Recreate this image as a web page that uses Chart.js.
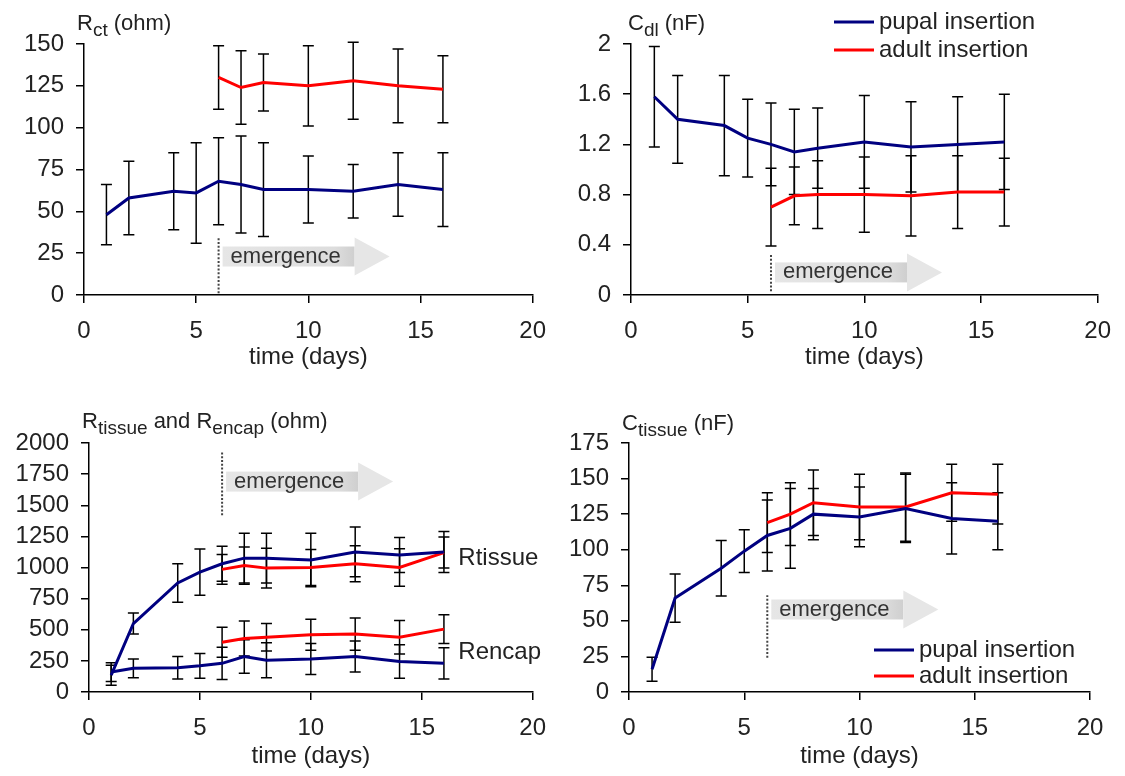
<!DOCTYPE html>
<html>
<head>
<meta charset="utf-8">
<title>Impedance parameters after insertion</title>
<script src="https://cdn.jsdelivr.net/npm/chart.js@4.4.1/dist/chart.umd.min.js"></script>
<style>
  html, body { margin: 0; padding: 0; background: #fff; }
  #wrap { position: relative; width: 1125px; height: 776px; }
  .panel { position: absolute; }
</style>
</head>
<body>
<div id="wrap">
  <canvas id="rctChart" class="panel" width="560" height="388" style="left:0;top:0"></canvas>
  <canvas id="cdlChart" class="panel" width="565" height="388" style="left:560px;top:0"></canvas>
  <canvas id="rChart" class="panel" width="560" height="388" style="left:0;top:388px"></canvas>
  <canvas id="ctisChart" class="panel" width="565" height="388" style="left:560px;top:388px"></canvas>
</div>
<script>
const FONT = "'Liberation Sans', Arial, sans-serif";
Chart.defaults.font.family = FONT;
Chart.defaults.color = '#222';

// sampling days
const days = [1, 2, 4, 5, 6, 7, 8, 10, 12, 14, 16];
const adultDays = [6, 7, 8, 10, 12, 14, 16];
const xTicks = [0, 5, 10, 15, 20];
const seriesNames = ['pupal insertion', 'adult insertion'];
const xTitle = 'time (days)';
const emergenceText = 'emergence';

// Rct (ohm)
const rctTicks = [0, 25, 50, 75, 100, 125, 150];
const rctPupal = [48, 58, 62, 61, 68, 66, 63, 63, 62, 66, 63];
const rctPupalErr = [18, 22, 23, 30, 26, 29, 28, 20, 16, 19, 22];
const rctAdult = [130, 124, 127, 125, 128, 125, 123];
const rctAdultErr = [19, 22, 17, 24, 23, 22, 20];

// Cdl (nF)
const cdlTicks = [0, 0.4, 0.8, 1.2, 1.6, 2];
const cdlPupal = [1.58, 1.40, 1.35, 1.25, 1.20, 1.14, 1.17, 1.22, 1.18, 1.20, 1.22];
const cdlPupalErr = [0.40, 0.35, 0.40, 0.31, 0.33, 0.34, 0.32, 0.37, 0.36, 0.38, 0.38];
const cdlAdult = [0.70, 0.79, 0.80, 0.80, 0.79, 0.82, 0.82];
const cdlAdultErr = [0.31, 0.23, 0.27, 0.30, 0.32, 0.29, 0.27];

// Rtissue and Rencap (ohm)
const rTicks = [0, 250, 500, 750, 1000, 1250, 1500, 1750, 2000];
const rtisPupal = [135, 550, 876, 963, 1030, 1075, 1075, 1060, 1125, 1100, 1125];
const rtisPupalErr = [80, 85, 155, 185, 140, 200, 200, 215, 200, 140, 165];
const rtisAdult = [985, 1015, 995, 1000, 1030, 1000, 1120];
const rtisAdultErr = [120, 150, 160, 145, 145, 150, 125];
const renPupal = [160, 190, 195, 210, 230, 285, 255, 265, 285, 245, 230];
const renPupalErr = [75, 75, 90, 100, 130, 135, 140, 125, 125, 135, 125];
const renAdult = [400, 430, 440, 460, 465, 440, 505];
const renAdultErr = [120, 140, 110, 125, 130, 135, 115];
const sideLabelText = ['Rtissue', 'Rencap'];

// Ctissue (nF)
const ctisTicks = [0, 25, 50, 75, 100, 125, 150, 175];
const ctisPupal = [16, 66, 87, 99, 110, 115, 125, 123, 129, 122, 120];
const ctisPupalErr = [8.5, 17, 19.5, 15, 25, 28, 18, 21, 24, 25, 20];
const ctisAdult = [119, 125, 133, 130, 130, 140, 139];
const ctisAdultErr = [21, 22, 23, 23, 24, 20, 21];

// titles: [text, isSubscript]
const rctTitle = [['R', 0], ['ct', 1], [' (ohm)', 0]];
const cdlTitle = [['C', 0], ['dl', 1], [' (nF)', 0]];
const rTitle = [['R', 0], ['tissue', 1], [' and R', 0], ['encap', 1], [' (ohm)', 0]];
const ctisTitle = [['C', 0], ['tissue', 1], [' (nF)', 0]];

const BLUE = '#000080';
const RED = '#ff0000';

const pts = (xs, ys) => xs.map((x, i) => ({ x, y: ys[i] }));

function series(label, color, xs, ys, errs) {
    return {
        label, data: pts(xs, ys), errors: errs,
        borderColor: color, backgroundColor: color,
        borderWidth: 3, pointRadius: 0, tension: 0, fill: false
    };
}

const errorBars = {
    id: 'errorBars',
    beforeDatasetsDraw(chart) {
        const { ctx } = chart;
        const y = chart.scales.y;
        ctx.save();
        ctx.strokeStyle = '#000';
        ctx.lineWidth = 1.5;
        chart.data.datasets.forEach((ds, i) => {
            chart.getDatasetMeta(i).data.forEach((pt, j) => {
                const v = ds.data[j].y, e = ds.errors[j];
                const top = y.getPixelForValue(v + e), bot = y.getPixelForValue(v - e);
                ctx.beginPath();
                ctx.moveTo(pt.x, top); ctx.lineTo(pt.x, bot);
                ctx.moveTo(pt.x - 5.5, top); ctx.lineTo(pt.x + 5.5, top);
                ctx.moveTo(pt.x - 5.5, bot); ctx.lineTo(pt.x + 5.5, bot);
                ctx.stroke();
            });
        });
        ctx.restore();
    }
};

// dotted line at emergence day + grey arrow
const emergence = {
    id: 'emergence',
    beforeDatasetsDraw(chart, args, o) {
        const { ctx, scales: { x, y } } = chart;
        const px = x.getPixelForValue(o.day);
        const yc = y.getPixelForValue(o.at);
        ctx.save();
        ctx.strokeStyle = '#444';
        ctx.lineWidth = 2;
        ctx.setLineDash([2, 1.8]);
        ctx.beginPath();
        ctx.moveTo(px, y.getPixelForValue(o.from));
        ctx.lineTo(px, y.getPixelForValue(o.to));
        ctx.stroke();
        ctx.setLineDash([]);
        const x0 = px + 4, bodyLen = 132, headLen = 35;
        const g = ctx.createLinearGradient(x0, 0, x0 + bodyLen, 0);
        g.addColorStop(0, '#e6e6e6');
        g.addColorStop(0.85, '#dddddd');
        g.addColorStop(1, '#cfcfcf');
        ctx.fillStyle = g;
        ctx.fillRect(x0, yc - 10, bodyLen, 20);
        ctx.fillStyle = '#e6e6e6';
        ctx.beginPath();
        ctx.moveTo(x0 + bodyLen, yc - 19);
        ctx.lineTo(x0 + bodyLen + headLen, yc);
        ctx.lineTo(x0 + bodyLen, yc + 19);
        ctx.closePath();
        ctx.fill();
        ctx.fillStyle = '#333';
        ctx.font = `22px ${FONT}`;
        ctx.textBaseline = 'middle';
        ctx.fillText(emergenceText, x0 + 8, yc);
        ctx.restore();
    }
};

// title with subscripts
const panelTitle = {
    id: 'panelTitle',
    afterDraw(chart, args, o) {
        const { ctx } = chart;
        let x = o.x;
        ctx.save();
        ctx.fillStyle = '#222';
        ctx.textBaseline = 'alphabetic';
        o.parts.forEach(([t, sub]) => {
            ctx.font = sub ? `19px ${FONT}` : `22px ${FONT}`;
            ctx.fillText(t, x, o.y + (sub ? 6 : 0));
            x += ctx.measureText(t).width;
        });
        ctx.restore();
    }
};

const lineLegend = {
    id: 'lineLegend',
    afterDraw(chart, args, o) {
        const { ctx } = chart;
        ctx.save();
        ctx.font = `24px ${FONT}`;
        ctx.textBaseline = 'middle';
        ctx.fillStyle = '#222';
        chart.data.datasets.slice(0, 2).forEach((ds, i) => {
            const y = o.y + i * o.gap;
            ctx.strokeStyle = ds.borderColor;
            ctx.lineWidth = 3;
            ctx.beginPath();
            ctx.moveTo(o.x, y);
            ctx.lineTo(o.x + 40, y);
            ctx.stroke();
            ctx.fillText(ds.label, o.x + 45, y);
        });
        ctx.restore();
    }
};

const sideLabels = {
    id: 'sideLabels',
    afterDraw(chart, args, o) {
        const { ctx, scales: { x, y } } = chart;
        ctx.save();
        ctx.font = `24px ${FONT}`;
        ctx.textBaseline = 'middle';
        ctx.fillStyle = '#222';
        o.items.forEach(it => ctx.fillText(it.text, x.getPixelForValue(it.x), y.getPixelForValue(it.y)));
        ctx.restore();
    }
};

const axisGrid = { drawOnChartArea: false, drawTicks: true, tickLength: 8, color: '#000', lineWidth: 1.5 };
const axisBorder = { color: '#000', width: 1.5 };

function panelOptions(p) {
    return {
        responsive: false,
        animation: false,
        layout: { padding: { left: 0, top: p.top, right: p.right, bottom: 0 } },
        plugins: {
            legend: { display: false },
            tooltip: { enabled: false },
            panelTitle: { parts: p.title, x: p.titleX, y: p.titleY },
            emergence: p.emergence,
            lineLegend: p.legend || false,
            sideLabels: p.sideLabels || false
        },
        scales: {
            x: {
                type: 'linear', min: 0, max: 20,
                afterBuildTicks: s => { s.ticks = xTicks.map(v => ({ value: v })); },
                afterFit: s => { s.height = p.xHeight; },
                ticks: { font: { size: 24 }, padding: 14, maxRotation: 0, autoSkip: false, callback: v => String(v) },
                grid: axisGrid, border: axisBorder,
                title: { display: true, text: xTitle, font: { size: 24 }, padding: { top: 0, bottom: p.titleBottom } }
            },
            y: {
                min: 0, max: p.yTicks[p.yTicks.length - 1],
                afterBuildTicks: s => { s.ticks = p.yTicks.map(v => ({ value: v })); },
                afterFit: s => { s.width = p.yWidth; },
                ticks: { font: { size: 24 }, padding: 12, autoSkip: false, callback: v => String(v) },
                grid: axisGrid, border: axisBorder
            }
        }
    };
}

const allPlugins = [errorBars, emergence, panelTitle, lineLegend, sideLabels];

function createRctChart(ctx) {
    new Chart(ctx, {
        type: 'line',
        data: { datasets: [
            series(seriesNames[0], BLUE, days, rctPupal, rctPupalErr),
            series(seriesNames[1], RED, adultDays, rctAdult, rctAdultErr)
        ] },
        options: panelOptions({
            yTicks: rctTicks, yWidth: 84, top: 44, right: 15, xHeight: 93, titleBottom: 16,
            title: rctTitle, titleX: 77, titleY: 30,
            emergence: { day: 6, from: 1, to: 35, at: 23 }
        }),
        plugins: allPlugins
    });
}

function createCdlChart(ctx) {
    new Chart(ctx, {
        type: 'line',
        data: { datasets: [
            series(seriesNames[0], BLUE, days, cdlPupal, cdlPupalErr),
            series(seriesNames[1], RED, adultDays, cdlAdult, cdlAdultErr)
        ] },
        options: panelOptions({
            yTicks: cdlTicks, yWidth: 71, top: 44, right: 27, xHeight: 93, titleBottom: 16,
            title: cdlTitle, titleX: 68, titleY: 30,
            emergence: { day: 6, from: 0.03, to: 0.33, at: 0.18 },
            legend: { x: 274, y: 22, gap: 28 }
        }),
        plugins: allPlugins
    });
}

function createRChart(ctx) {
    new Chart(ctx, {
        type: 'line',
        data: { datasets: [
            series(seriesNames[0], BLUE, days, rtisPupal, rtisPupalErr),
            series(seriesNames[1], RED, adultDays, rtisAdult, rtisAdultErr),
            series(seriesNames[0], BLUE, days, renPupal, renPupalErr),
            series(seriesNames[1], RED, adultDays, renAdult, renAdultErr)
        ] },
        options: panelOptions({
            yTicks: rTicks, yWidth: 89, top: 55, right: 23, xHeight: 84, titleBottom: 5,
            title: rTitle, titleX: 82, titleY: 40,
            emergence: { day: 6, from: 1420, to: 1930, at: 1690 },
            sideLabels: { items: [
                { text: sideLabelText[0], x: 16.65, y: 1070 },
                { text: sideLabelText[1], x: 16.65, y: 320 }
            ] }
        }),
        plugins: allPlugins
    });
}

function createCtisChart(ctx) {
    new Chart(ctx, {
        type: 'line',
        data: { datasets: [
            series(seriesNames[0], BLUE, days, ctisPupal, ctisPupalErr),
            series(seriesNames[1], RED, adultDays, ctisAdult, ctisAdultErr)
        ] },
        options: panelOptions({
            yTicks: ctisTicks, yWidth: 69, top: 55, right: 35, xHeight: 84, titleBottom: 5,
            title: ctisTitle, titleX: 62, titleY: 42,
            emergence: { day: 6, from: 24, to: 68, at: 58 },
            legend: { x: 314, y: 262, gap: 26 }
        }),
        plugins: allPlugins
    });
}

const chartsToCreate = {
    rctChart: createRctChart,
    cdlChart: createCdlChart,
    rChart: createRChart,
    ctisChart: createCtisChart
};
for (const id in chartsToCreate) {
    const el = document.getElementById(id);
    if (el) chartsToCreate[id](el.getContext('2d'));
}
</script>
</body>
</html>
